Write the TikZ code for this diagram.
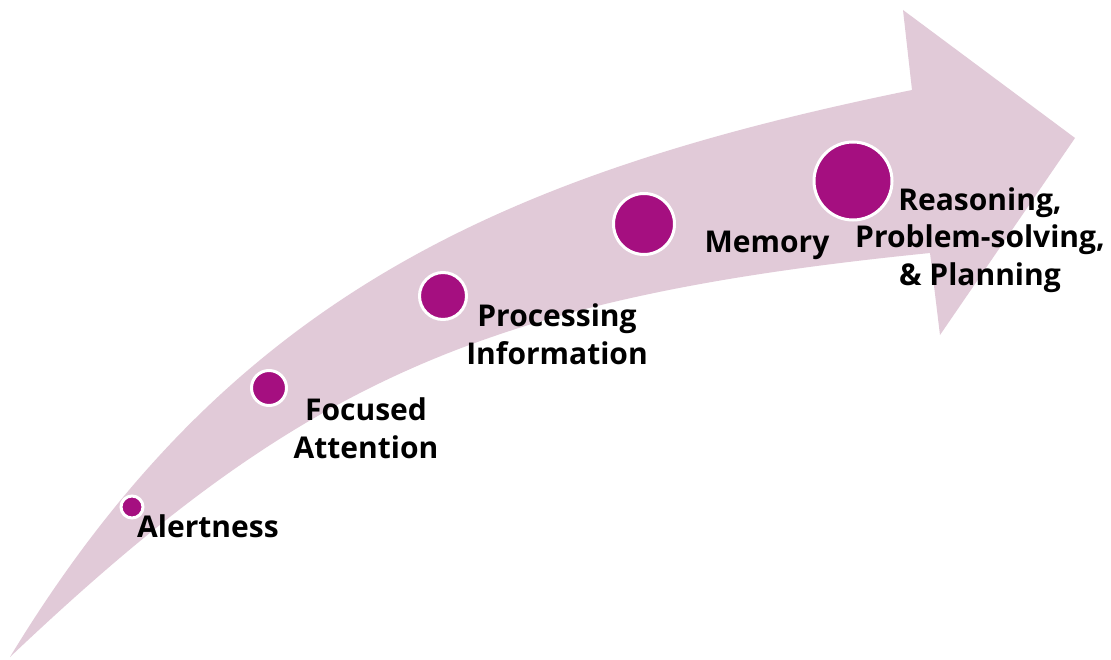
\documentclass[tikz,border=0pt]{standalone}
\usepackage{fontspec}
\setmainfont{Open Sans}
\definecolor{arrowpink}{HTML}{E1CAD8}
\definecolor{dotmag}{HTML}{A50F80}
\begin{document}
\begin{tikzpicture}[x=1pt,y=-1pt,
  dot/.style={circle,fill=dotmag,draw=white,line width=3pt,inner sep=0pt},
  lbl/.style={font=\fontsize{30}{37.5}\selectfont\bfseries,align=center,inner sep=0pt,text=black}]
\useasboundingbox[fill=white] (0,0) rectangle (1111,660);
% curved arrow
\fill[arrowpink] (10,657) .. controls (228,298) and (500,174) .. (912,90)
  -- (903,10) -- (1075,138) -- (940,335) -- (930,253)
  .. controls (482,298) and (300,382) .. (10,657) -- cycle;
% dots
\node[dot,minimum size=22pt] (d1) at (132,507) {};
\node[dot,minimum size=35pt] (d2) at (269,388) {};
\node[dot,minimum size=47pt] (d3) at (443,296) {};
\node[dot,minimum size=61pt] (d4) at (644,224) {};
\node[dot,minimum size=78pt] (d5) at (853,181) {};
% labels
\node[lbl,anchor=base west] (t1) at (137,537) {Alertness};
\node[lbl] (t2) at (366,428) {Focused\\Attention};
\node[lbl] (t3) at (557,334) {Processing\\Information};
\node[lbl] (t4) at (767,245) {Memory};
\node[lbl] (t5) at (980,240) {Reasoning,\\Problem-solving,\\\& Planning};
\end{tikzpicture}
\end{document}
